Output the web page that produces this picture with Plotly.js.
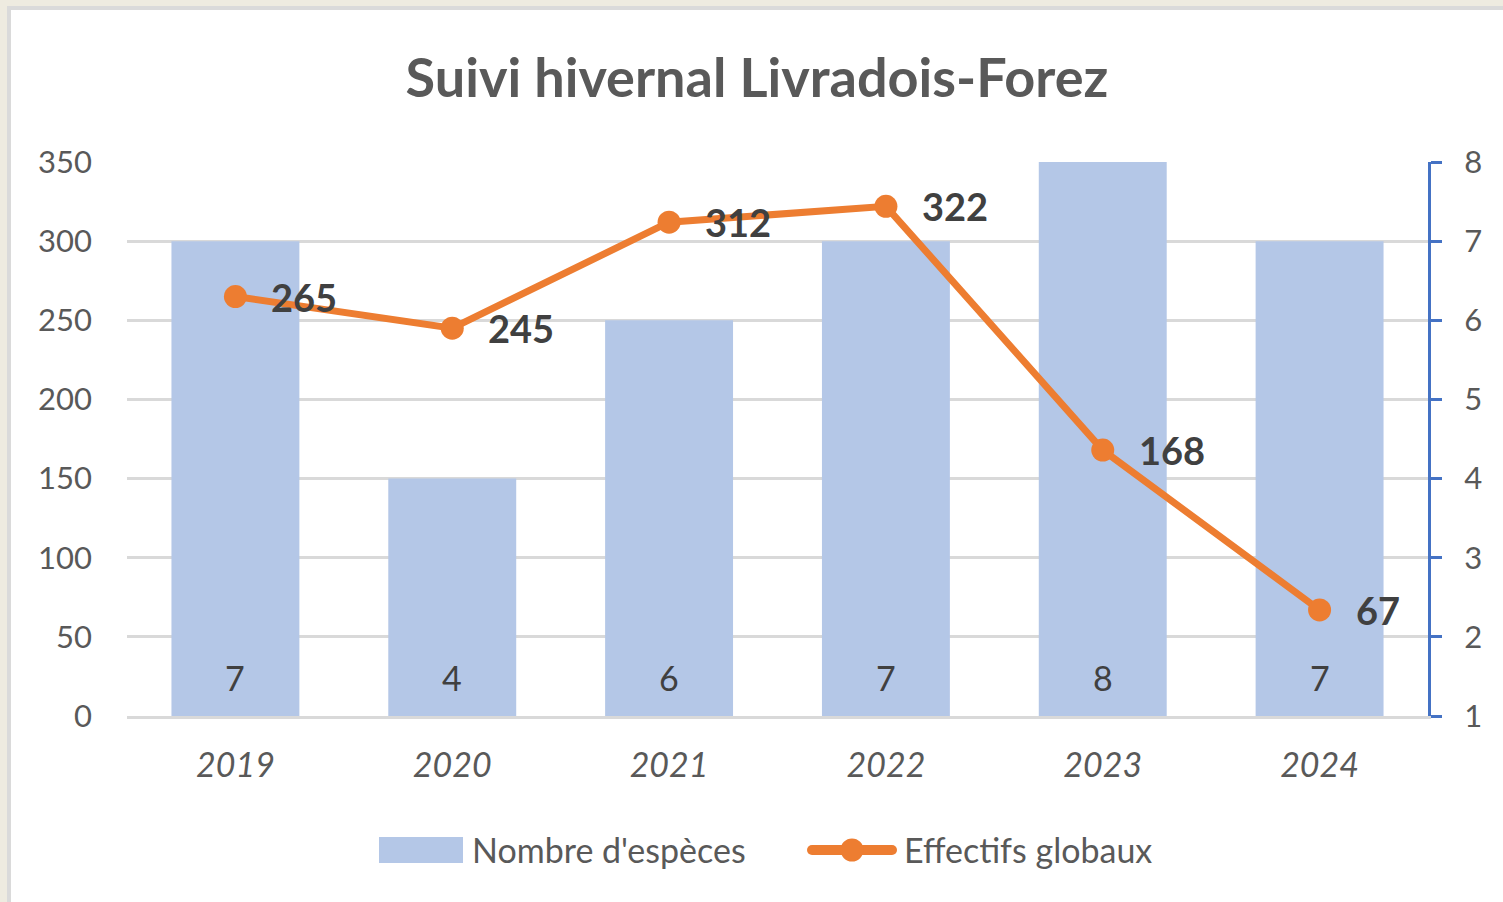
<!DOCTYPE html>
<html>
<head>
<meta charset="utf-8">
<script src="https://cdn.plot.ly/plotly-3.0.1.min.js"></script>
<style>
html,body{margin:0;padding:0;background:#EEEBE0;width:1503px;height:902px;overflow:hidden;}
#frame{position:absolute;left:7px;top:6px;width:1496px;height:896px;border-left:4px solid #DADADA;border-top:4px solid #DADADA;background:#fff;}
#chart{width:1492px;height:892px;}
</style>
</head>
<body>
<div id="frame"><div id="chart"></div></div>
<script>
const years = ['2019','2020','2021','2022','2023','2024'];
const nbEspeces = [7, 4, 6, 7, 8, 7];
const effectifs = [265, 245, 312, 322, 168, 67];
const titleText = 'Suivi hivernal Livradois-Forez';
const seriesNames = ["Nombre d'espèces", 'Effectifs globaux'];

const FONT = 'Lato, "Open Sans", sans-serif';
const GRAY = '#595959';
const BAR_COLOR = '#B4C7E7';
const LINE_COLOR = '#ED7D31';

// geometry of the figure (pixels inside the chart div)
const W = 1492, H = 892;
const M = {l: 116, r: 75, t: 152, b: 186};
const PW = W - M.l - M.r, PH = H - M.t - M.b;
// convert chart-div pixel positions to paper coordinates (for the legend drawing)
const px = x => (x - M.l) / PW;
const py = y => (M.t + PH - y) / PH;

const bars = {
  type: 'bar', name: seriesNames[0], x: years, y: nbEspeces, yaxis: 'y',
  marker: {color: BAR_COLOR}
};
const line = {
  type: 'scatter', mode: 'lines+markers', name: seriesNames[1], x: years, y: effectifs, yaxis: 'y2',
  line: {color: LINE_COLOR, width: 7}, marker: {color: LINE_COLOR, size: 23}
};

const annotations = [];
years.forEach((yr, i) => {
  annotations.push({x: i, y: effectifs[i], xref: 'x', yref: 'y2', text: String(effectifs[i]),
    showarrow: false, xanchor: 'left', yanchor: 'middle', xshift: 34,
    font: {family: FONT, size: 38, color: '#404040', weight: 'bold'}});
  annotations.push({x: i, y: 1, xref: 'x', yref: 'y', text: String(nbEspeces[i]),
    showarrow: false, xanchor: 'center', yanchor: 'middle', yshift: 39,
    font: {family: FONT, size: 34, color: '#404040'}});
});

// legend (drawn so that the swatches keep the reference proportions)
const LEG_Y = 840;          // centre line of the legend, div pixels
const leg1X = 368, leg2X = 796;
const shapes = [
  {type: 'rect', xref: 'paper', yref: 'paper', x0: px(leg1X), x1: px(leg1X + 84),
   y0: py(LEG_Y - 13), y1: py(LEG_Y + 13), fillcolor: BAR_COLOR, line: {width: 0}},
  {type: 'line', xref: 'paper', yref: 'paper', x0: px(leg2X + 5), x1: px(leg2X + 85),
   y0: py(LEG_Y), y1: py(LEG_Y), line: {color: LINE_COLOR, width: 10}},
  {type: 'circle', xref: 'paper', yref: 'paper', x0: px(leg2X), x1: px(leg2X + 10),
   y0: py(LEG_Y - 5), y1: py(LEG_Y + 5), fillcolor: LINE_COLOR, line: {width: 0}},
  {type: 'circle', xref: 'paper', yref: 'paper', x0: px(leg2X + 80), x1: px(leg2X + 90),
   y0: py(LEG_Y - 5), y1: py(LEG_Y + 5), fillcolor: LINE_COLOR, line: {width: 0}},
  {type: 'circle', xref: 'paper', yref: 'paper', x0: px(leg2X + 33.5), x1: px(leg2X + 56.5),
   y0: py(LEG_Y - 11.5), y1: py(LEG_Y + 11.5), fillcolor: LINE_COLOR, line: {width: 0}}
];
annotations.push({xref: 'paper', yref: 'paper', x: px(leg1X + 91), y: py(LEG_Y), text: seriesNames[0],
  showarrow: false, xanchor: 'left', yanchor: 'middle', font: {family: FONT, size: 34, color: GRAY}});
annotations.push({xref: 'paper', yref: 'paper', x: px(leg2X + 95), y: py(LEG_Y), text: seriesNames[1],
  showarrow: false, xanchor: 'left', yanchor: 'middle', font: {family: FONT, size: 34, color: GRAY}});

const layout = {
  width: W, height: H,
  paper_bgcolor: '#fff', plot_bgcolor: '#fff',
  margin: M,
  font: {family: FONT, color: GRAY},
  title: {text: titleText, x: 0.5, xref: 'container', xanchor: 'center', y: 1 - 68/892, yanchor: 'middle',
    font: {family: FONT, size: 54, color: GRAY, weight: 'bold'}},
  bargap: 0.41,
  showlegend: false,
  xaxis: {type: 'category', range: [-0.5, 5.5], showgrid: false, showline: true, linecolor: '#D9D9D9', linewidth: 3,
    ticks: '', tickfont: {family: FONT, size: 34, color: GRAY, style: 'italic'}, ticklabelstandoff: 17,
    fixedrange: true},
  yaxis: {range: [1, 8], dtick: 1, side: 'right', showgrid: true, gridcolor: '#D9D9D9', gridwidth: 3,
    showline: true, linecolor: '#4472C4', linewidth: 3, ticks: 'outside', ticklen: 11, tickwidth: 3,
    tickcolor: '#4472C4', tickfont: {family: FONT, size: 31, color: GRAY}, ticklabelstandoff: 16,
    zeroline: false, fixedrange: true},
  yaxis2: {range: [0, 350], dtick: 50, side: 'left', overlaying: 'y', showgrid: false, zeroline: false,
    showline: false, ticks: '', tickfont: {family: FONT, size: 31, color: GRAY}, ticklabelstandoff: 34,
    fixedrange: true},
  annotations: annotations,
  shapes: shapes
};

Plotly.newPlot('chart', [bars, line], layout, {displayModeBar: false});
</script>
</body>
</html>
